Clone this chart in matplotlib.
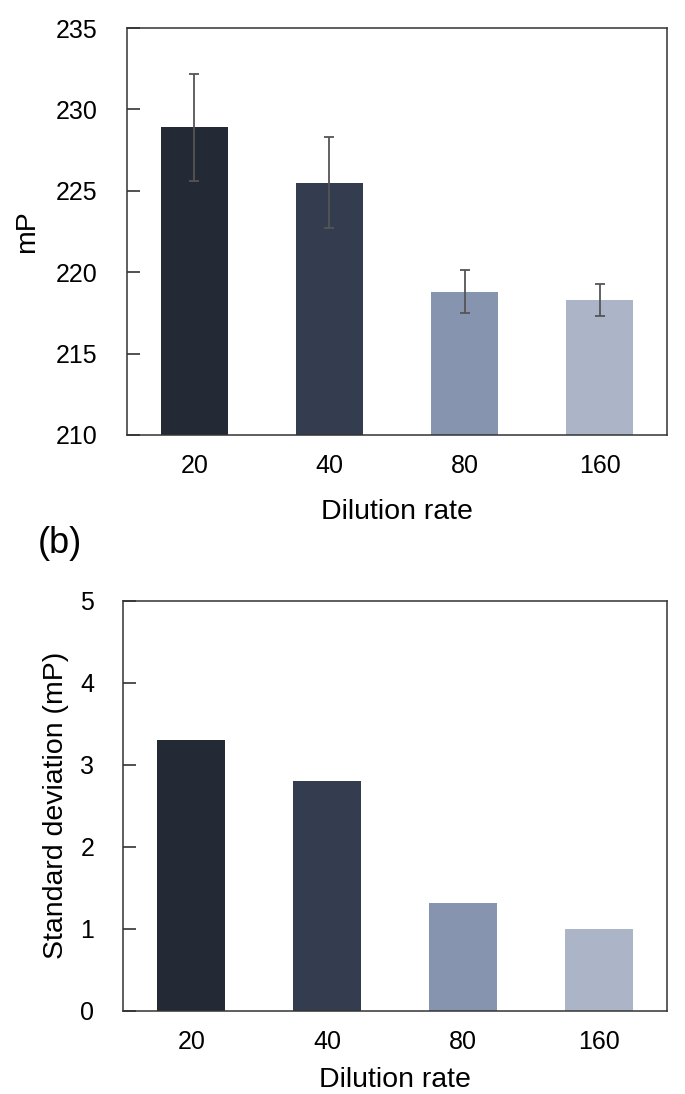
import matplotlib.pyplot as plt

plt.rcParams['font.family'] = ['Liberation Sans', 'DejaVu Sans']

# data
dilution = ['20', '40', '80', '160']
mp_mean = [228.9, 225.5, 218.8, 218.3]
mp_sd = [3.3, 2.8, 1.32, 1.0]
bar_colors = ['#242a35', '#333d4f', '#8694b0', '#abb5c7']

fig = plt.figure(figsize=(6.85, 10.94), dpi=100)

def style_axes(ax):
    for sp in ax.spines.values():
        sp.set_color('#333333')
        sp.set_linewidth(1.1)
    ax.tick_params(axis='y', direction='in', length=9, width=1.1,
                   labelsize=18, pad=21, color='#222222')
    ax.tick_params(axis='x', length=0, labelsize=18, pad=14)
    ax.set_xlim(-0.5, 3.5)

# (a) mean mP with error bars
ax1 = fig.add_axes([0.185, 0.6024, 0.789, 0.372])
x = range(len(dilution))
ax1.bar(x, mp_mean, width=0.5, color=bar_colors, zorder=2)
ax1.errorbar(x, mp_mean, yerr=mp_sd, fmt='none', ecolor='#555555',
             elinewidth=1.3, capsize=3.5, capthick=1.3, zorder=3)
ax1.set_ylim(210, 235)
ax1.set_yticks([210, 215, 220, 225, 230, 235])
ax1.set_xticks(list(x))
ax1.set_xticklabels(dilution)
style_axes(ax1)
ax1.set_ylabel('mP', fontsize=20.5, labelpad=11)
ax1.set_xlabel('Dilution rate', fontsize=20.5, labelpad=15)

fig.text(0.055, 0.503, '(b)', fontsize=26, va='center', ha='left')

# (b) standard deviation
ax2 = fig.add_axes([0.180, 0.0759, 0.794, 0.375])
ax2.bar(x, mp_sd, width=0.5, color=bar_colors, zorder=2)
ax2.set_ylim(0, 5)
ax2.set_yticks([0, 1, 2, 3, 4, 5])
ax2.set_xticks(list(x))
ax2.set_xticklabels(dilution)
style_axes(ax2)
ax2.set_ylabel('Standard deviation (mP)', fontsize=20.5, labelpad=8)
ax2.set_xlabel('Dilution rate', fontsize=20.5, labelpad=9)

fig.savefig('out.png', dpi=100)
